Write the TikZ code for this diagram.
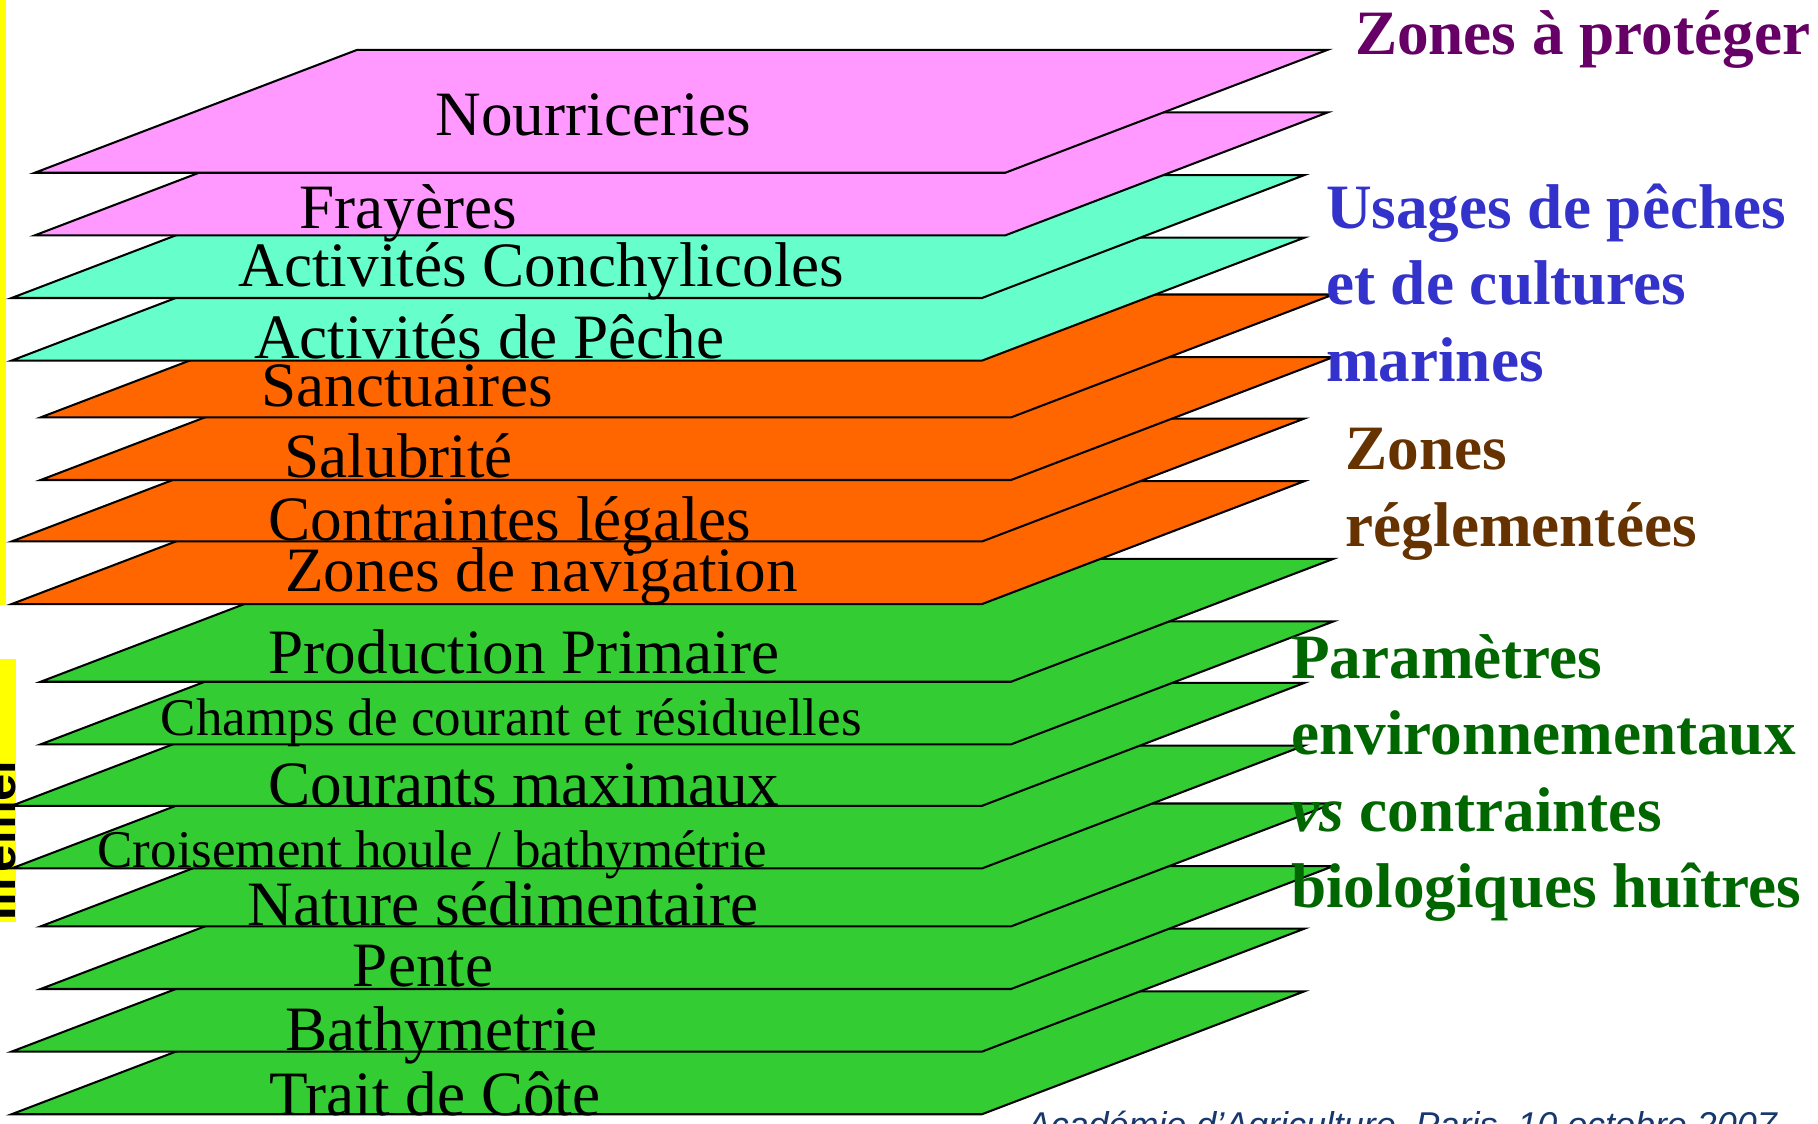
\documentclass[tikz,border=0pt]{standalone}
\usepackage{fontspec}
\setmainfont{Liberation Serif}
\setsansfont{Liberation Sans}
\definecolor{rose}{HTML}{FF99FF}
\definecolor{aqua}{HTML}{66FFCC}
\definecolor{orange}{HTML}{FF6600}
\definecolor{vert}{HTML}{33CC33}
\definecolor{jaune}{HTML}{FFFF00}
\definecolor{violet}{HTML}{660066}
\definecolor{bleu}{HTML}{3333CC}
\definecolor{brun}{HTML}{663300}
\definecolor{vertfonce}{HTML}{006600}
\definecolor{marine}{HTML}{17386E}
\tikzset{
  couche/.style={draw=black, line width=0.5pt},
  etiq/.style={anchor=base, inner sep=0pt, font=\fontsize{15.5}{18}\selectfont},
  etiqpetite/.style={etiq, font=\fontsize{13}{15}\selectfont},
  theme/.style={anchor=base west, inner sep=0pt, font=\fontsize{15.5}{18}\selectfont\bfseries},
}
\begin{document}
\begin{tikzpicture}[x=0.01cm,y=-0.01cm]
\useasboundingbox (0,0) rectangle (1568,969);
\clip (0,0) rectangle (1568,969);
% bandeaux jaunes a gauche
\fill[jaune] (0,0) rectangle (5,522);
\fill[jaune] (0,568) rectangle (14,795);
\node[rotate=90, anchor=base west, inner sep=0pt, font=\sffamily\bfseries\fontsize{12}{14}\selectfont] (logo) at (13,795) {Ifremer};
% couches, de bas en haut: bord bas y / bord gauche x / couleur
\foreach \yb/\xl/\col in {961/10/vert, 907/10/vert, 853/35/vert, 799/35/vert,
  749/10/vert, 695/10/vert, 642/35/vert, 588/35/vert,
  521/10/orange, 467/10/orange, 414/35/orange, 360/35/orange,
  311/10/aqua, 257/10/aqua, 203/30/rose, 149/30/rose}
  \draw[couche, fill=\col] (\xl,\yb) -- ++(837,0) -- ++(278,-106) -- ++(-837,0) -- cycle;
% noms des couches
\foreach \x/\y/\t [count=\i] in {512/117/Nourriceries, 352/197/Frayères,
  467/247/Activités Conchylicoles, 422/309/Activités de Pêche,
  351/351/Sanctuaires, 344/412/Salubrité, 440/466/Contraintes légales,
  467/510/Zones de navigation, 452/581/Production Primaire,
  452/695/Courants maximaux, 434/798/Nature sédimentaire, 365/851/Pente,
  381/906/Bathymetrie, 375/962/Trait de Côte}
  \node[etiq] (c\i) at (\x,\y) {\t};
\node[etiqpetite] (champs) at (441,634) {Champs de courant et résiduelles};
\node[etiqpetite] (houle) at (373,748) {Croisement houle / bathymétrie};
% themes a droite
\node[theme, text=violet] (proteger) at (1168,47) {Zones à protéger};
\foreach \t [count=\k] in {Usages de pêches, et de cultures, marines}
  \node[theme, text=bleu] (usage\k) at (1143,{197+66*(\k-1)}) {\t};
\foreach \t [count=\k] in {Zones, réglementées}
  \node[theme, text=brun] (regl\k) at (1160,{405+66*(\k-1)}) {\t};
\foreach \t [count=\k] in {Paramètres, environnementaux, \textit{vs} contraintes, biologiques huîtres}
  \node[theme, text=vertfonce] (param\k) at (1113,{585+66*(\k-1)}) {\t};
% pied de page
\node[anchor=north west, inner sep=0pt, text=marine, font=\sffamily\itshape\fontsize{8.8}{10}\selectfont] (pied) at (885,958) {Académie d'Agriculture, Paris, 10 octobre 2007};
\end{tikzpicture}
\end{document}
